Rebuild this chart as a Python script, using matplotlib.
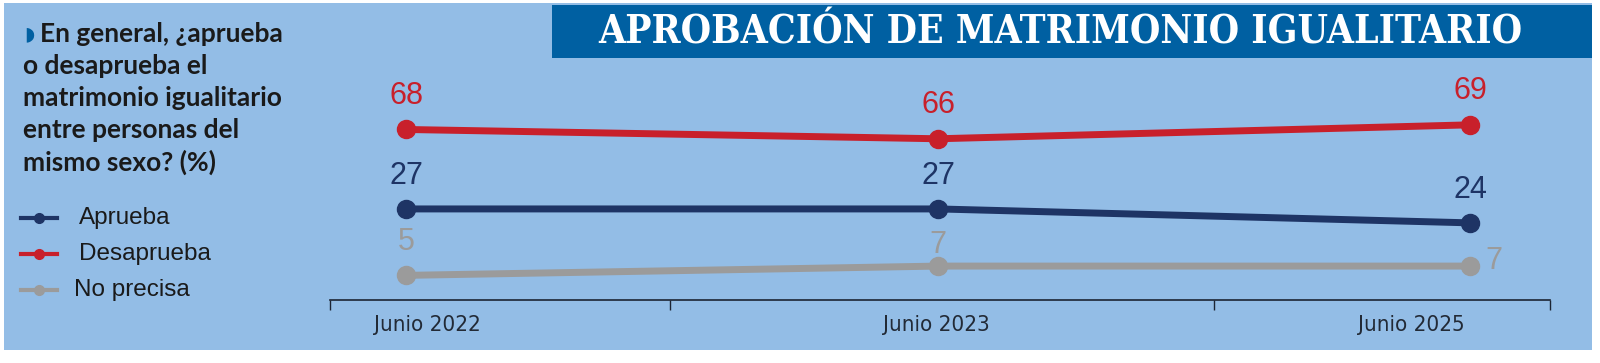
import matplotlib
matplotlib.use("Agg")
import matplotlib.pyplot as plt
from matplotlib.patches import Rectangle

# ── Data ─────────────────────────────────────────────────────────────────────
periods    = ["Junio 2022", "Junio 2023", "Junio 2025"]
aprueba    = [27, 27, 24]
desaprueba = [68, 66, 69]
no_precisa = [5, 7, 7]
series_names = ["Aprueba", "Desaprueba", "No precisa"]

title = "APROBACIÓN DE MATRIMONIO IGUALITARIO"
question = ["En general, ¿aprueba", "o desaprueba el", "matrimonio igualitario",
            "entre personas del", "mismo sexo? (%)"]

# ── Style ────────────────────────────────────────────────────────────────────
BG     = "#93bde6"
BANNER = "#0060a2"
RED    = "#c8202b"
NAVY   = "#1e3465"
GREY   = "#9b9b9b"
INK    = "#1a1a1a"

W, H = 1600, 363
fig = plt.figure(figsize=(W / 100, H / 100), dpi=100, facecolor="white")


def px(x, y):
    """pixel (from top-left) -> figure fraction"""
    return x / W, 1 - y / H


# background panel + title banner
fig.patches.append(Rectangle(px(4, 350), 1588 / W, 347 / H, transform=fig.transFigure,
                             facecolor=BG, edgecolor="none", zorder=-3))
fig.patches.append(Rectangle(px(552, 58), 1040 / W, 53 / H, transform=fig.transFigure,
                             facecolor=BANNER, edgecolor="none", zorder=-2))
fig.text(*px(1060, 32), title, color="white", fontsize=28, fontweight="bold",
         fontstretch="condensed", family="DejaVu Serif", ha="center", va="center")

# question text
fig.text(*px(24, 34), "\u25D7", color=BANNER, fontsize=14, va="center", ha="left",
         family="DejaVu Sans")
for i, line in enumerate(question):
    x0 = 40 if i == 0 else 23
    fig.text(*px(x0, 34 + i * 32), line, color=INK, fontsize=19, fontweight="bold",
             family="Lato", ha="left", va="center")

# ── Chart axes (one per series so each gets its own band) ───────────────────
left, right, top, bottom = 330, 1550, 70, 300
rect = [left / W, 1 - bottom / H, (right - left) / W, (bottom - top) / H]
ylims = [(7.4, 56.9), (31.3, 80.8), (-0.3, 49.2)]
colors = [NAVY, RED, GREY]
values = [aprueba, desaprueba, no_precisa]
xs = list(range(len(periods)))
# label offsets (points) per series / period
offsets = [[(0, 24)] * 3, [(0, 24)] * 3, [(0, 24), (0, 15), (17, 4)]]

base = fig.add_axes(rect)
axes = [base] + [fig.add_axes(rect, sharex=base) for _ in range(2)]
for ax in axes:
    ax.set_facecolor("none")
    ax.set_xlim(-0.143, 2.150)
    ax.set_yticks([])
    for s in ("left", "right", "top"):
        ax.spines[s].set_visible(False)

for ax in axes[1:]:
    ax.spines["bottom"].set_visible(False)
    ax.tick_params(axis="x", bottom=False, labelbottom=False)

for ax, vals, col, lim, offs in zip(axes, values, colors, ylims, offsets):
    ax.set_ylim(*lim)
    ax.plot(xs, vals, color=col, lw=5, marker="o", ms=13, solid_capstyle="round")
    for x, v, off in zip(xs, vals, offs):
        ax.annotate(str(v), (x, v), xytext=off, textcoords="offset points",
                    ha="center", va="center", fontsize=22, color=col,
                    family="Liberation Sans")

base.spines["bottom"].set_color("#1c2433")
base.spines["bottom"].set_linewidth(1.2)
base.set_xticks([-0.143, 0.496, 1.519, 2.150])
base.tick_params(axis="x", direction="out", length=7, width=1, color="#1c2433",
                 labelbottom=False)
for pos, lab in zip([0.04, 0.996, 1.889], periods):
    base.text(pos, -0.11, lab, transform=base.get_xaxis_transform(), ha="center",
              va="center", fontsize=16, family="DejaVu Sans", fontstretch="condensed",
              color="#222a36")

# ── Legend ───────────────────────────────────────────────────────────────────
for i, (name, col) in enumerate(zip(series_names, colors)):
    y = 218 + i * 36
    fig.add_artist(plt.Line2D([21 / W, 57 / W], [1 - y / H] * 2, color=col, lw=3,
                              transform=fig.transFigure))
    fig.add_artist(plt.Line2D([39 / W], [1 - y / H], color=col, marker="o", ms=7,
                              transform=fig.transFigure))
    fig.text(*px(79 if i < 2 else 74, y), name, fontsize=17.5, color=INK,
             family="Liberation Sans", ha="left", va="center")

fig.savefig("out.png", dpi=100, facecolor="white")
